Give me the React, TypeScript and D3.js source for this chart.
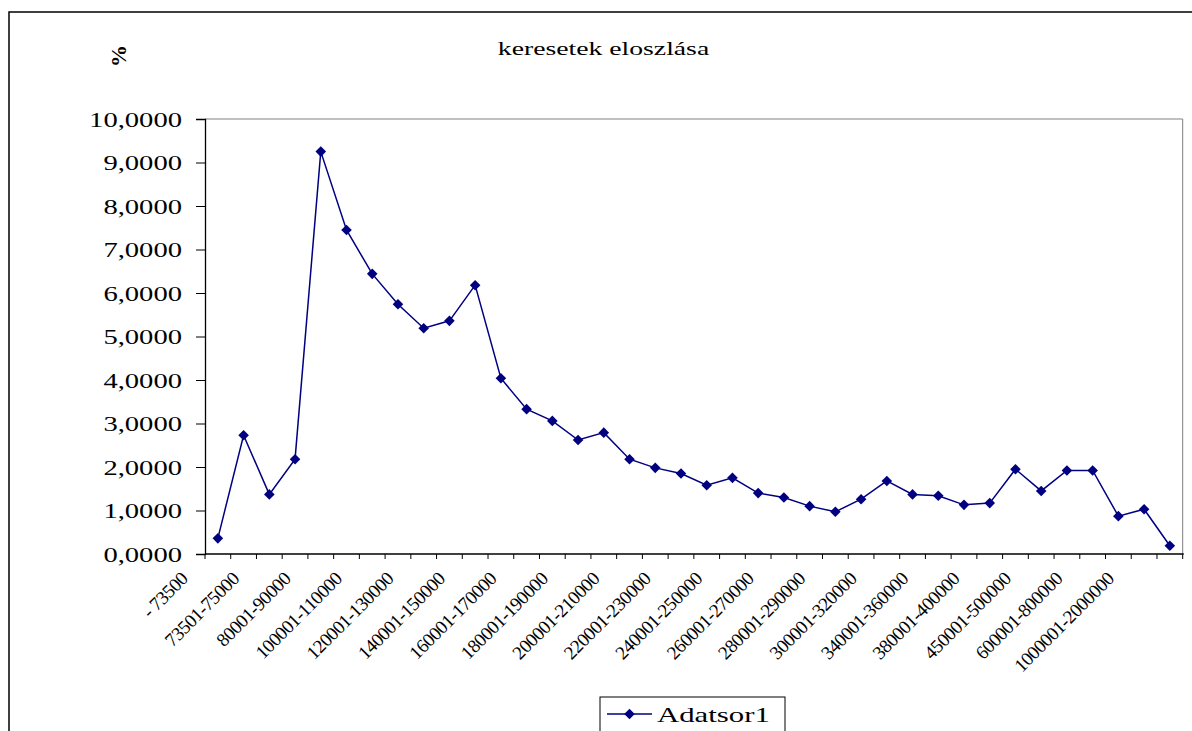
import React, { useEffect, useRef } from 'react';
import * as d3 from 'd3';

// income bands (only every second one gets a label, like the original)
const categories = [
  '- 73500', '73500', '73501-75000', '75001-80000', '80001-90000', '90001-100000',
  '100001-110000', '110001-120000', '120001-130000', '130001-140000', '140001-150000',
  '150001-160000', '160001-170000', '170001-180000', '180001-190000', '190001-200000',
  '200001-210000', '210001-220000', '220001-230000', '230001-240000', '240001-250000',
  '250001-260000', '260001-270000', '270001-280000', '280001-290000', '290001-300000',
  '300001-320000', '320001-340000', '340001-360000', '360001-380000', '380001-400000',
  '400001-450000', '450001-500000', '500001-600000', '600001-800000', '800001-1000000',
  '1000001-2000000', '2000001-',
];

const shares = [
  0.36, 2.73, 1.37, 2.18, 9.25, 7.45, 6.44, 5.74, 5.19, 5.36, 6.18, 4.04, 3.33,
  3.06, 2.62, 2.79, 2.18, 1.98, 1.85, 1.58, 1.75, 1.40, 1.30, 1.10, 0.97, 1.26,
  1.68, 1.37, 1.34, 1.13, 1.17, 1.95, 1.45, 1.92, 1.92, 0.87, 1.03, 0.19,
];

const yTicks = [0, 1, 2, 3, 4, 5, 6, 7, 8, 9, 10];

const title = 'keresetek eloszlása';
const yTitle = '%';
const seriesName = 'Adatsor1';

const App: React.FC = () => {
  const ref = useRef<SVGSVGElement | null>(null);

  useEffect(() => {
    const W = 1192;
    const H = 731;
    const left = 205, right = 1182.7, top = 119, bottom = 554;
    const font = "'Liberation Serif', 'Times New Roman', serif";
    const navy = '#000080';

    const svg = d3.select(ref.current);
    svg.selectAll('*').remove();
    svg.attr('width', W).attr('height', H).style('font-family', font);

    svg.append('rect').attr('width', W).attr('height', H).attr('fill', 'white');

    // outer chart frame (runs off the right and bottom of the picture)
    svg.append('rect')
      .attr('x', 9).attr('y', 12)
      .attr('width', W + 20).attr('height', H + 20)
      .attr('fill', 'none').attr('stroke', 'black').attr('stroke-width', 1.5);

    const x = d3.scaleBand<string>().domain(categories).range([left, right]).padding(0);
    const y = d3.scaleLinear().domain([0, 10]).range([bottom, top]);

    // plot area border: gray top/right
    svg.append('path')
      .attr('d', `M${left},${top}H${right}V${bottom}`)
      .attr('fill', 'none').attr('stroke', '#808080').attr('stroke-width', 1);

    // y axis
    const yAxis = svg.append('g').attr('transform', `translate(${left},0)`)
      .call(d3.axisLeft(y).tickValues(yTicks).tickSize(9).tickFormat(() => ''));
    yAxis.select('.domain').attr('stroke', 'black').attr('stroke-width', 1.3);
    yAxis.selectAll('.tick line').attr('stroke', 'black');

    yTicks.forEach(t => {
      svg.append('text')
        .attr('transform', `translate(182,${y(t) + 7.5}) scale(1.3,1)`)
        .attr('text-anchor', 'end')
        .style('font-size', '22px')
        .attr('fill', 'black')
        .text(d3.format('.4f')(t).replace('.', ','));
    });

    // x axis with ticks at category boundaries
    const xAxis = svg.append('g').attr('transform', `translate(0,${bottom})`);
    xAxis.append('line')
      .attr('x1', left).attr('x2', right + 1)
      .attr('stroke', 'black').attr('stroke-width', 1.3);
    xAxis.selectAll('line.tk')
      .data(categories.concat(['__end']))
      .enter().append('line')
      .attr('class', 'tk')
      .attr('x1', (d, i) => (i < categories.length ? x(d)! : right))
      .attr('x2', (d, i) => (i < categories.length ? x(d)! : right))
      .attr('y1', 0).attr('y2', 5)
      .attr('stroke', 'black');

    categories.forEach((c, i) => {
      if (i % 2 !== 0) return;
      const cx = x(c)! + x.bandwidth() / 2;
      svg.append('text')
        .attr('transform', `translate(${cx - 29},${bottom + 26}) rotate(-45)`)
        .attr('text-anchor', 'end')
        .style('font-size', '19px')
        .style('letter-spacing', '-0.5px')
        .attr('fill', 'black')
        .text(c);
    });

    // series line + diamond markers
    const pts = categories.map((c, i) => ({ c, v: shares[i] }));
    const line = d3.line<{ c: string; v: number }>()
      .x(d => x(d.c)! + x.bandwidth() / 2)
      .y(d => y(d.v));
    svg.append('path')
      .datum(pts)
      .attr('d', line)
      .attr('fill', 'none')
      .attr('stroke', navy)
      .attr('stroke-width', 1.5);

    const diamond = d3.symbol(d3.symbolSquare, 56);
    svg.selectAll('path.mk')
      .data(pts)
      .enter().append('path')
      .attr('class', 'mk')
      .attr('d', diamond)
      .attr('transform', d => `translate(${x(d.c)! + x.bandwidth() / 2},${y(d.v)}) rotate(45)`)
      .attr('fill', navy);

    // title
    svg.append('text')
      .attr('transform', 'translate(603.5,55) scale(1.42,1)')
      .attr('text-anchor', 'middle')
      .style('font-size', '19.5px')
      .attr('fill', 'black')
      .text(title);

    // y title
    svg.append('text')
      .attr('transform', 'translate(126,56) rotate(-90)')
      .attr('text-anchor', 'middle')
      .style('font-size', '22px')
      .style('font-weight', 'bold')
      .attr('fill', 'black')
      .text(yTitle);

    // legend
    const lg = svg.append('g').attr('transform', 'translate(600,697)');
    lg.append('rect')
      .attr('width', 185).attr('height', 60)
      .attr('fill', 'white').attr('stroke', 'black').attr('stroke-width', 1);
    lg.append('line')
      .attr('x1', 7).attr('x2', 52).attr('y1', 17).attr('y2', 17)
      .attr('stroke', navy).attr('stroke-width', 1.5);
    lg.append('path')
      .attr('d', diamond)
      .attr('transform', 'translate(29.5,17) rotate(45)')
      .attr('fill', navy);
    lg.append('text')
      .attr('transform', 'translate(57,25) scale(1.4,1)')
      .style('font-size', '22px')
      .attr('fill', 'black')
      .text(seriesName);
  }, []);

  return (
    <svg ref={ref} style={{ position: 'absolute', left: 0, top: 0, display: 'block' }} />
  );
};

export default App;
